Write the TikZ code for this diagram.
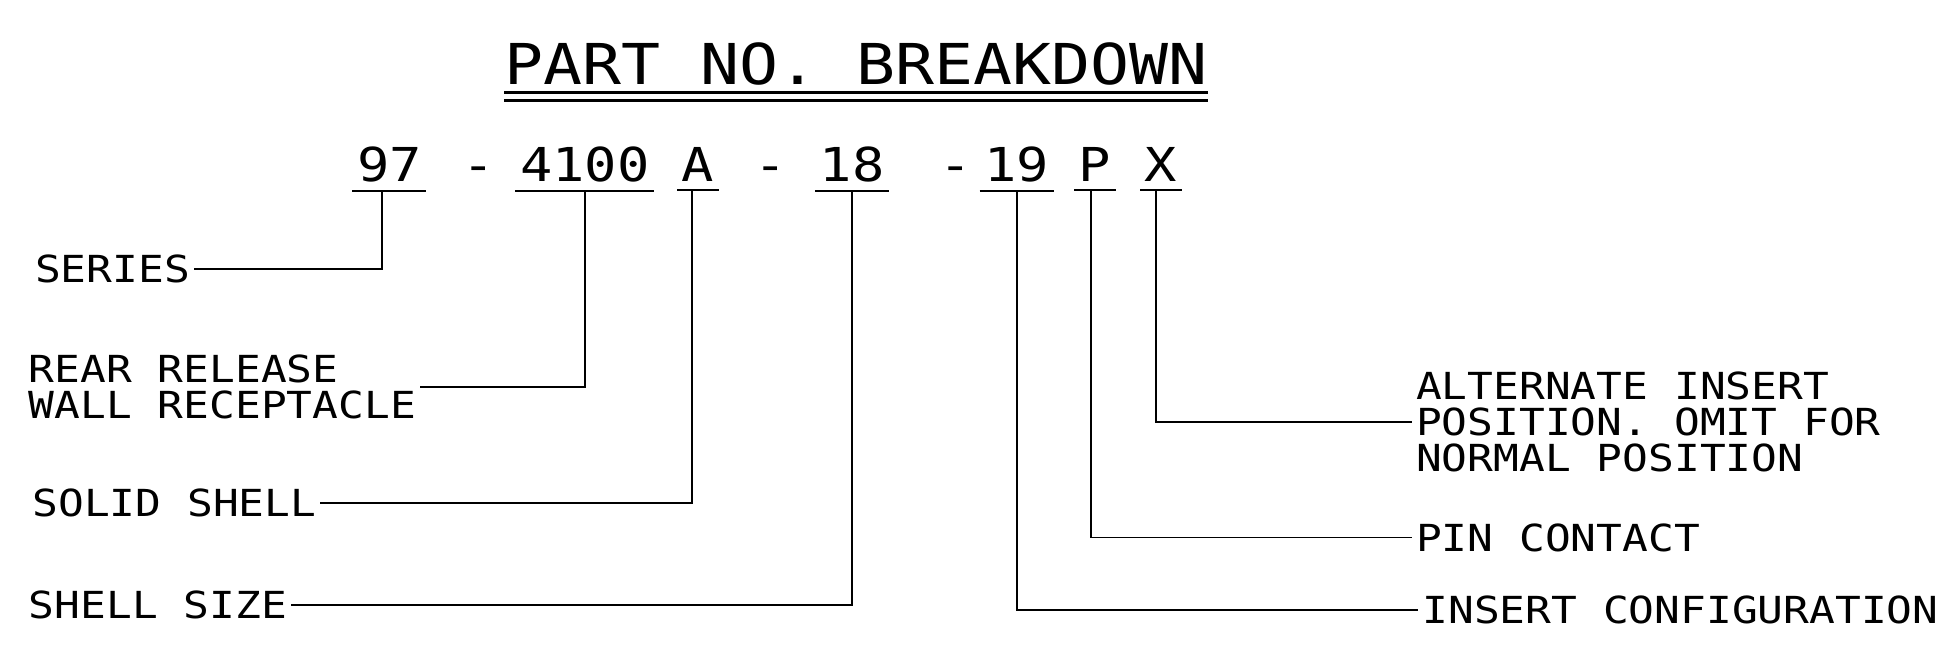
\documentclass[tikz,border=0pt]{standalone}
\usepackage{fontspec}
\setmainfont{DejaVu Sans Mono}[FakeStretch=1.15]
\begin{document}
\begin{tikzpicture}[x=0.025cm,y=-0.025cm,line width=1.1pt,
  lbl/.style={font=\fontsize{21.3}{20.6}\selectfont,inner xsep=0.06cm,inner ysep=0pt,align=left,anchor=west},
  pn/.style={font=\fontsize{26.7}{30}\selectfont,inner xsep=0.075cm,inner ysep=0.15cm,anchor=base},
  ttl/.style={font=\fontsize{32.2}{36}\selectfont,inner sep=0pt,anchor=base},
  rule/.style={line width=1.4pt},
  lead/.style={line width=1.1pt}]
\useasboundingbox (0,0) rectangle (1568,523);
% title
\node[ttl] (title) at (688,68) {PART NO. BREAKDOWN};
\draw[rule] ([yshift=-0.125cm]title.south west) -- ([yshift=-0.125cm]title.south east);
\draw[rule] ([yshift=-0.28cm]title.south west) -- ([yshift=-0.28cm]title.south east);
% part number groups
\node[pn] (p97) at (313,146) {97};
\node[pn] (d1) at (385,146) {-};
\node[pn] (p4100) at (470,146) {4100};
\node[pn] (pA) at (561,146) {A};
\node[pn] (d2) at (619,146) {-};
\node[pn] (p18) at (685,146) {18};
\node[pn] (d3) at (768,146) {-};
\node[pn] (p19) at (817,146) {19};
\node[pn] (pP) at (880,146) {P};
\node[pn] (pX) at (933,146) {X};
\foreach \n in {p97,p4100,pA,p18,p19,pP,pX}
  \draw[lead] (\n.south west) -- (\n.south east);
% left labels
\node[lbl] (series) at (25,216) {SERIES};
\node[lbl] (rear) at (20,311) {REAR RELEASE\\WALL RECEPTACLE};
\node[lbl] (solid) at (23,404) {SOLID SHELL};
\node[lbl] (size) at (20,486) {SHELL SIZE};
% right labels
\node[lbl] (alt) at (1135,339) {ALTERNATE INSERT\\POSITION. OMIT FOR\\NORMAL POSITION};
\node[lbl] (pin) at (1135,432) {PIN CONTACT};
\node[lbl] (conf) at (1140,490) {INSERT CONFIGURATION};
% leaders
\draw[lead] ([xshift=-0.15cm]p97.south) |- (series.east);
\draw[lead] (p4100.south) |- (rear.east);
\draw[lead] ([xshift=-0.125cm]pA.south) |- (solid.east);
\draw[lead] (p18.south) |- (size.east);
\draw[lead] (p19.south) |- (conf.west);
\draw[lead] ([xshift=-0.075cm]pP.south) |- (pin.west);
\draw[lead] ([xshift=-0.1cm]pX.south) |- (alt.west);
\end{tikzpicture}
\end{document}
